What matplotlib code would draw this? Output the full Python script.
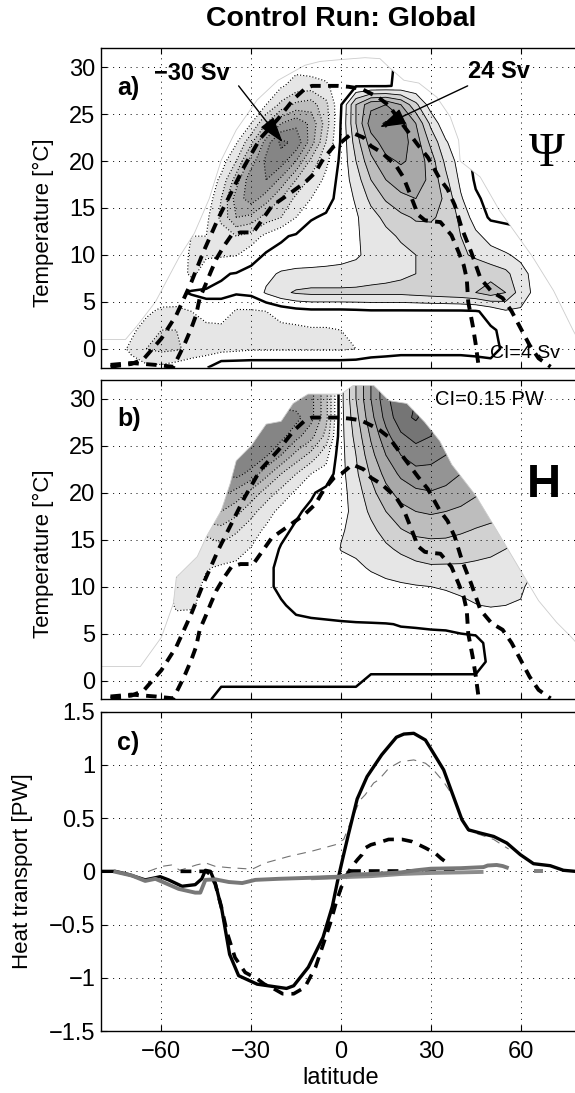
import numpy as np
import matplotlib
matplotlib.use("Agg")
import matplotlib.pyplot as plt
from matplotlib.patches import Polygon

plt.rcParams.update({
    "font.family": ["Liberation Sans", "DejaVu Sans"],
    "font.size": 16,
    "axes.linewidth": 1.0,
    "xtick.direction": "in",
    "ytick.direction": "in",
    "xtick.top": True,
    "ytick.right": True,
})

# ── grid for panels a) and b) ────────────────────────────────────────────────
LAT = np.arange(-80, 81, 5)          # 33 columns
TEMP = np.arange(32, -3, -2)         # rows, top (32) to bottom (-2)

# a) overturning streamfunction Psi [Sv]
psi30 = [-0.5]*11 + [-1, -2, -3, -2, -1, -0.5, -0.5, -0.5, -0.3, 0.3, 0.3] + [0.3]*11
PSI_ROWS = [
    psi30,
    psi30,
    [-0.5]*10 + [-0.8] + [-1.5, -3.5, -5.5, -6, -5, -0.5, -0.3, -0.3, -0.3, 0.5, 0.5] + [0.3]*11,
    [-0.5]*10 + [-1] + [-4, -9, -13, -14, -9, -0.3, 12, 19, 20, 16, 9] + [2] + [0.3]*10,
    [-0.5]*9 + [-1, -4] + [-12, -20, -23, -19, -10, 0.3, 12, 22, 24.5, 22, 16] + [7, 1] + [0.3]*9,
    [-0.5]*8 + [-0.5, -3.5, -11] + [-22, -29, -27, -18, -8, 0.5, 10, 18, 22, 22, 18] + [11, 4.5, 0.5] + [0.3]*8,
    [-0.5]*8 + [-2, -8, -18] + [-25, -26, -20, -11, -5, 1, 8, 15, 19, 20.5, 19] + [14, 7, 2, -1, -1] + [-0.5]*6,
    [-0.5]*8 + [-5, -14, -23] + [-24, -19, -12, -7, -3, 1.5, 6, 12, 16, 18, 18] + [15, 9, 3, -0.5, -1] + [-0.5]*6,
    [-0.5]*7 + [-1, -8, -18, -22] + [-18, -12, -7, -4, -1.5, 1.5, 4.5, 9, 12.5, 15, 16] + [15, 11, 4.5, 0.5, -1, -1] + [-0.5]*5,
    [-0.5]*6 + [-1, -3, -9, -16, -15] + [-10, -8, -4, -0.3, 0.5, 2, 3.5, 6.5, 9, 11, 12.5] + [12.5, 11, 7, 2, -0.5, -0.5] + [-0.5]*5,
    [-0.5]*6 + [-4, -4, -6, -8, -6] + [-3, -0.5, 0.5, 1.5, 2, 2.5, 3.5, 5.5, 7, 8.5, 10] + [10.5, 10, 8, 5, 2.5, 1, 0.5] + [0.3]*4,
    [-0.5]*5 + [-2, -4.5, -4.5, -4.5, -4.2, -2] + [0.5, 1, 1.5, 2, 2.5, 3, 3.5, 5, 6, 7, 8] + [8.5, 8.5, 8.5, 7.5, 5.5, 4.5, 3, 1] + [0.3]*3,
    [-0.5]*5 + [-1, -5, -2, -0.3, 0.2, 1.5] + [3, 4.5, 5, 5, 5, 5, 5.5, 6.5, 7, 7.5, 8] + [8.5, 9, 9.5, 10, 10.5, 9, 5.5, 2.5, 0.5, 0.3, 0.3],
    [-0.5]*5 + [-1, 0.5, 0.5, 0.5, 0.5, 1] + [4.5, 7, 8.5, 9, 9, 9, 9, 9, 9, 9, 9.5] + [10, 10.5, 11, 12, 14, 12, 6, 3, 1, 0.3, 0.3],
    [-0.5, -0.5, -1.5, -3, -5] + [-5, -4, -1, -1, -4.5, -4.5] + [-4, -2.5, -1.5, -1, -1, -1, -0.8, -0.5, -0.5, -0.5, -0.5] + [-0.5, -0.5, -0.5, -0.3, 1, 3.5, 3.5, 2, 0.5, 0.3, 0.3],
    [-0.5, -1, -3, -6, -8] + [-8, -7, -6, -5.5, -5.5, -5.5] + [-5, -5, -5, -4.5, -4.5, -4, -3, -2, -1.5, -1, -1] + [-1, -1, -1, -1, -0.3, 0.5, 1, 1, 0.5, 0.3, 0.3],
    [-1, -2, -5, -8, -9] + [-8.5, -7, -6, -5.5, -5, -4.5] + [-4.5, -4.5, -4.5, -4.5, -4.5, -4.5, -4, -2.5, -2, -1.5, -1.5] + [-1.5, -1.5, -1.5, -1, -0.5, 0.3, 0.5, 0.5, 0.3, 0.3, 0.3],
    [-0.5, -1, -2, -3, -3] + [-2, -1, -0.3, 3, 3, 3] + [3]*11 + [3, 3, 3, 1.5, 0.5, 0.3, 0.3, 0.3, 0.3, 0.3, 0.3],
]

# b) heat function H [PW]
h30 = [-0.8]*13 + [-0.8, -0.8, -0.5, 0.1, 0.45, 0.75, 1.0] + [1.2, 1.2] + [1.1]*11
HEAT_ROWS = [
    h30,
    h30,
    [-0.9]*10 + [-0.95, -1.0, -1.0, -0.95, -0.8, -0.5, 0.1, 0.4, 0.7, 0.95, 1.15, 1.22, 1.1] + [1.0]*10,
    [-0.9]*9 + [-0.95, -1.0, -1.05, -0.95, -0.8, -0.65, -0.4, 0.1, 0.35, 0.62, 0.85, 1.02, 1.1, 1.05, 0.95] + [0.9]*9,
    [-0.9]*8 + [-0.95, -1.0, -1.02, -0.92, -0.75, -0.55, -0.4, -0.2, 0.1, 0.3, 0.55, 0.75, 0.9, 0.97, 0.95, 0.9, 0.85] + [0.8]*8,
    [-0.85]*8 + [-0.9, -0.95, -0.85, -0.65, -0.45, -0.3, -0.15, -0.1, 0.1, 0.27, 0.47, 0.65, 0.78, 0.85, 0.85, 0.8, 0.75, 0.7] + [0.7]*7,
    [-0.8]*8 + [-0.8, -0.7, -0.55, -0.38, -0.25, -0.12, -0.02, 0.05, 0.1, 0.22, 0.4, 0.55, 0.66, 0.72, 0.74, 0.72, 0.68, 0.62] + [0.6]*7,
    [-0.6]*8 + [-0.6, -0.5, -0.35, -0.22, -0.1, -0.02, 0.03, 0.06, 0.1, 0.2, 0.33, 0.45, 0.55, 0.6, 0.62, 0.6, 0.57, 0.53, 0.5] + [0.5]*6,
    [-0.35]*8 + [-0.4, -0.32, -0.22, -0.12, -0.03, 0.02, 0.04, 0.07, 0.14, 0.18, 0.26, 0.36, 0.44, 0.49, 0.5, 0.5, 0.47, 0.44, 0.42, 0.38] + [0.35]*5,
    [-0.2]*7 + [-0.2, -0.25, -0.2, -0.14, -0.06, 0.01, 0.03, 0.05, 0.08, 0.155, 0.17, 0.2, 0.27, 0.33, 0.37, 0.39, 0.38, 0.37, 0.35, 0.33, 0.3, 0.25] + [0.2]*4,
    [-0.1]*5 + [-0.12, -0.2, -0.16, -0.13, -0.12, -0.07, -0.02, 0.02, 0.03, 0.04, 0.06, 0.1, 0.13, 0.16, 0.19, 0.22, 0.26, 0.28, 0.28, 0.28, 0.27, 0.26, 0.24, 0.2] + [0.15]*4,
    [-0.1]*5 + [-0.18, -0.2, -0.12, -0.08, -0.06, -0.04, -0.01, 0.01, 0.02, 0.03, 0.04, 0.06, 0.09, 0.11, 0.12, 0.13, 0.14, 0.15, 0.16, 0.18, 0.2, 0.2, 0.19, 0.17, 0.1] + [0.05]*3,
    [-0.05]*5 + [-0.17, -0.17, -0.1, -0.06, -0.05, -0.03, -0.02, -0.005, 0.01, 0.02, 0.03, 0.04, 0.05, 0.06, 0.07, 0.08, 0.09, 0.1, 0.11, 0.12, 0.145, 0.16, 0.15, 0.14, 0.08, 0.04, 0.02, 0.02],
    [-0.02]*4 + [-0.05, -0.1, -0.08, -0.05, -0.03, -0.02, -0.02, -0.015, -0.01, -0.01, -0.01, -0.01, -0.008, -0.006, -0.005, -0.003, 0.003, 0.005, 0.008, 0.01, 0.02, 0.03, 0.05, 0.06, 0.05, 0.03, 0.02, 0.01, 0.01],
    [-0.02]*3 + [-0.03, -0.03, -0.04, -0.03] + [-0.02]*19 + [0.02, 0.02] + [0.01]*5,
    [-0.02]*26 + [0.01]*7,
    [-0.01]*18 + [0.01]*15,
    [-0.01]*8 + [0.02]*25,
]

# water-mass domain outlines (lat, temperature)
DOMAIN_A_LAT = [-80, -80, -72, -68, -62, -54, -49, -44, -40, -35, -28, -21, -12, -7, 0, 8, 13, 16, 21, 26, 32, 36.5, 39.3, 39.8, 46.5, 53, 64, 71, 77.5, 80, 80]
DOMAIN_A_T = [-2, 1, 1, 2.5, 5, 9.8, 12.3, 16, 20.1, 23.3, 26.5, 28.6, 30.2, 30.6, 30.8, 31, 30.9, 30, 28.6, 28.3, 26.8, 24.7, 22.2, 20, 18.3, 14.7, 9.8, 6.2, 2, 0.5, -2]
DOMAIN_B_LAT = [-80, -80, -67, -60, -56, -55, -48, -45, -40, -37, -35, -30, -25, -20, -16, -11, 0, 4, 11, 16, 22, 28, 33, 37, 45, 52, 60, 66, 72, 77, 80, 80]
DOMAIN_B_T = [-2, 1.5, 1.5, 4.6, 8.2, 11, 13.2, 15.3, 18.1, 21, 23.4, 25, 27.3, 27.6, 29.5, 30.5, 30.5, 31.4, 31.4, 29.8, 29.5, 27.5, 25.5, 23, 19.7, 16, 11.7, 8.5, 6.2, 4.6, 3.5, -2]

# thick dashed lines (warm and cold surface temperature) in a) and b)
SST_MAX_LAT = [-77, -70, -66, -63, -60, -55, -50, -46, -41, -36.6, -32.2, -27, -21, -15.8, -12, -9.7, -4.8, -1, 2.6, 6.7,
               12.4, 16, 20.8, 25.7, 29, 33, 35.6, 38, 40.4, 43.5, 46.6, 50.3, 54, 57, 60, 63, 66, 70]
SST_MAX_T = [-1.9, -1.6, -1.1, 0, 1.1, 3.6, 7.1, 10.3, 13.9, 16.7, 19.5, 22.4, 24.5, 26.6, 27.7, 28, 28, 28, 27.9, 27.7,
             26.8, 25.9, 23.8, 21.7, 20.4, 18.1, 17, 15.3, 12.8, 10.3, 7.5, 6.1, 5.4, 4, 2.2, 0.4, -1, -1.9]
SST_MIN_LAT = [-77, -70, -62, -56, -53.8, -52, -50, -48.4, -47.2, -45.3, -43.5, -41.6, -39, -36.6, -33.6, -29.3, -23.1, -18.2,
               -12.1, -8.5, -6, -2.3, 0.1, 3.8, 7.5, 10, 13.6, 16, 18.4, 20.8, 23.3, 25.7, 28, 30.1, 33.2, 36.9, 39.3, 41,
               42, 42.5, 44, 45, 46]
SST_MIN_T = [-1.7, -1.5, -1.7, -1.9, -0.5, 0.7, 2.2, 3.6, 5.4, 6.8, 8.2, 9.6, 11, 12.1, 12.4, 12.4, 15.2, 16.3,
             17.7, 18.8, 20.2, 21.6, 22, 23, 22.5, 21.6, 20.9, 20.2, 19.5, 18.3, 16.3, 14.3, 13.7, 13.6, 13.5, 12.1, 10.3, 8.9,
             7.5, 5, 2.5, 0.5, -1.9]

# ── c) heat transport [PW] ───────────────────────────────────────────────────
TOTAL_LAT = [-80, -75.4, -70.9, -65.4, -62, -60.4, -57.6, -53.1, -48.7, -46.5, -45.3, -43.6, -42, -39.8, -37.2, -34.2,
             -28, -23.1, -18.2, -15.8, -10.9, -6, -2.9, -1.1, 0.7, 2.5, 5.4, 8.7, 13.6, 18.5, 21, 24.3, 28.2, 30.9,
             34.3, 37.6, 40.4, 42.6, 46.5, 51, 55.4, 59.9, 64.3, 69.9, 74.3, 78.3, 80]
TOTAL_H = [0, 0, -0.03, -0.08, -0.06, -0.05, -0.08, -0.14, -0.125, -0.07, 0.01, 0.0, -0.11, -0.36, -0.78, -0.98,
           -1.06, -1.08, -1.10, -1.075, -0.90, -0.62, -0.33, -0.085, 0.135, 0.35, 0.68, 0.89, 1.095, 1.26, 1.29, 1.297, 1.234, 1.11,
           0.953, 0.70, 0.485, 0.39, 0.36, 0.328, 0.266, 0.157, 0.072, 0.053, 0.01, 0, 0]
OVERT_LAT = [-53.6, -50, -46, -45, -43.6, -42, -40, -38, -35.4, -32, -28, -25.6, -22, -19.5, -15.8, -12.1, -8.5, -4.8,
             -3.6, -1.5, 0.1, 1.4, 3.5, 5.5, 7, 8.1, 10, 12.6, 15.9, 18.5, 20.4, 23.7, 26, 28.2, 31.5, 33.5, 35.4, 36.5]
OVERT_H = [0, 0, 0, 0, -0.03, -0.12, -0.33, -0.58, -0.81, -0.95, -1.01, -1.06, -1.11, -1.15, -1.15, -1.09, -0.90, -0.59,
           -0.49, -0.28, -0.15, -0.06, 0.04, 0.11, 0.157, 0.22, 0.25, 0.27, 0.30, 0.30, 0.30, 0.28, 0.25, 0.22, 0.17, 0.12, 0.08, 0.06]
GYRE_LAT = [3, 12, 25, 40]
GYRE_H = [0.0, 0.0, 0.0, 0.0]
THIN_LAT = [-64.3, -59.8, -56.6, -53.8, -51, -48.3, -45.3, -42, -37.5, -32, -29.7, -25.3, -17.5, -9.7, -1.9, 0.9, 3, 5.3,
            6.4, 8.1, 10.9, 12.6, 16, 19.8, 24.3, 28.2, 30.9, 34.3, 37.6, 40.4, 42.6, 46.5, 51, 54.3, 56]
THIN_H = [0.0, 0.047, 0.06, 0.01, 0.035, 0.06, 0.08, 0.047, 0.035, 0.025, 0.02, 0.079, 0.14, 0.19, 0.25, 0.30, 0.45, 0.6,
          0.67, 0.72, 0.83, 0.86, 0.97, 1.03, 1.047, 1.016, 0.953, 0.84, 0.70, 0.49, 0.38, 0.344, 0.30, 0.24, 0.21]
GRAY1_LAT = [-76, -69.8, -65.4, -62, -58.7, -54.2, -48.7, -47, -45.3, -42, -37.5, -33, -28.6, -20.8, -9.7, -0.8, 4.2,
             10, 20, 25, 30, 40, 47.6, 49, 52, 54, 56]
GRAY1_H = [0, -0.04, -0.09, -0.07, -0.11, -0.165, -0.2, -0.2, -0.08, -0.075, -0.1, -0.11, -0.08, -0.07, -0.06, -0.05, -0.03,
           -0.025, -0.01, 0.01, 0.025, 0.03, 0.04, 0.055, 0.06, 0.05, 0.03]
GRAY2_LAT = [-10, 0, 10, 20, 30, 40, 47.6]
GRAY2_H = [-0.065, -0.055, -0.045, -0.025, -0.015, -0.01, -0.005]
GRAY3_LAT = [64.6, 67.4]
GRAY3_H = [0, 0]

PSI_LEVELS = [-32, -28, -24, -20, -16, -12, -8, -4, 4, 8, 12, 16, 20, 24, 28, 32]
HEAT_LEVELS = [-1.35, -1.2, -1.05, -0.9, -0.75, -0.6, -0.45, -0.3, -0.15,
               0.15, 0.3, 0.45, 0.6, 0.75, 0.9, 1.05, 1.2, 1.35]
SHADES = [0.90, 0.82, 0.74, 0.66, 0.58, 0.52, 0.46, 0.40]

XTICKS = [-60, -30, 0, 30, 60]
XTICKLABELS = ["\u221260", "\u221230", "0", "30", "60"]
TTICKS = [0, 5, 10, 15, 20, 25, 30]
HTICKS = [-1.5, -1, -0.5, 0, 0.5, 1, 1.5]
HTICKLABELS = ["\u22121.5", "\u22121", "\u22120.5", "0", "0.5", "1", "1.5"]

DASHES = (2.7, 1.9)


def shade_colors(nbins):
    neg = [str(SHADES[i]) for i in range(nbins - 1, -1, -1)]
    pos = [str(SHADES[i]) for i in range(nbins)]
    return neg + ["white"] + pos


def base_axes(ax):
    ax.set_xlim(-80, 80)
    ax.set_xticks(XTICKS)
    ax.grid(True, color="k", lw=0.7, ls=(0, (1, 5)))
    ax.set_axisbelow(False)
    ax.tick_params(length=4, width=0.8, labelsize=17, pad=4.5)
    ax.tick_params(axis="x", pad=7)


def field_panel(ax, rows, levels, nbins, dom_lat, dom_t):
    field = np.array(rows, dtype=float)[::-1]
    temp = TEMP[::-1]
    poly = Polygon(np.column_stack([dom_lat, dom_t]), closed=True,
                   facecolor="none", edgecolor="none", transform=ax.transData)
    ax.add_patch(poly)

    cf = ax.contourf(LAT, temp, field, levels=levels, colors=shade_colors(nbins), zorder=1)
    cf.set_clip_path(poly)
    neg = [v for v in levels[1:] if v < 0]
    pos = [v for v in levels[:-1] if v > 0]
    c1 = ax.contour(LAT, temp, field, levels=neg, colors="k", linewidths=0.8,
                    linestyles=[(0, (1, 1.8))], zorder=2)
    c2 = ax.contour(LAT, temp, field, levels=pos, colors="k", linewidths=0.6, zorder=2)
    c3 = ax.contour(LAT, temp, field, levels=[0], colors="k", linewidths=1.8, zorder=2)
    for c in (c1, c2, c3):
        c.set_clip_path(poly)

    ax.plot(dom_lat[1:-1], dom_t[1:-1], color="0.8", lw=0.6, zorder=2)
    ax.plot(SST_MAX_LAT, SST_MAX_T, color="k", lw=2.8, dashes=DASHES, zorder=4)
    ax.plot(SST_MIN_LAT, SST_MIN_T, color="k", lw=2.8, dashes=DASHES, zorder=4)

    ax.set_ylim(-2, 32)
    ax.set_yticks(TTICKS)
    ax.set_ylabel("Temperature [\u00b0C]", fontsize=16)
    ax.yaxis.set_label_coords(-0.10, 0.455)
    ax.tick_params(labelbottom=False)


fig = plt.figure(figsize=(5.75, 10.93), dpi=100)
ax_a = fig.add_axes([0.17652, 0.66359, 0.83304, 0.29222])
ax_b = fig.add_axes([0.17652, 0.36020, 0.83304, 0.29213])
ax_c = fig.add_axes([0.17652, 0.05672, 0.83304, 0.29213])
for ax in (ax_a, ax_b, ax_c):
    base_axes(ax)

# a) Psi
field_panel(ax_a, PSI_ROWS, PSI_LEVELS, 7, DOMAIN_A_LAT, DOMAIN_A_T)
ax_a.text(-74.7, 27.8, "a)", fontsize=18, fontweight="bold", ha="left", va="center", zorder=6)
ax_a.text(-62.4, 29.3, "\u221230 Sv", fontsize=17, fontweight="bold", ha="left", va="center", zorder=6)
ax_a.text(42.5, 29.5, "24 Sv", fontsize=17, fontweight="bold", ha="left", va="center", zorder=6)
arrow = dict(arrowstyle="-|>,head_length=1.0,head_width=0.32", mutation_scale=16,
             lw=1.0, color="k", shrinkA=0, shrinkB=0)
ax_a.annotate("", xy=(-19.5, 22.0), xytext=(-34.2, 28.0), arrowprops=arrow, zorder=6)
ax_a.annotate("", xy=(13.0, 23.6), xytext=(42.3, 28.0), arrowprops=arrow, zorder=6)
ax_a.text(68.7, 20.8, "\u03a8", fontsize=35, family=["Liberation Serif", "DejaVu Serif"],
          ha="center", va="center", zorder=6)
ax_a.text(49.9, -0.5, "CI=4 Sv", fontsize=14, ha="left", va="center", zorder=6)

# b) H
field_panel(ax_b, HEAT_ROWS, HEAT_LEVELS, 8, DOMAIN_B_LAT, DOMAIN_B_T)
ax_b.text(-74.7, 27.9, "b)", fontsize=18, fontweight="bold", ha="left", va="center", zorder=6)
ax_b.text(67.7, 20.8, "H", fontsize=34, fontweight="bold", ha="center", va="center", zorder=6)
ax_b.text(31.3, 29.9, "CI=0.15 PW", fontsize=14.5, ha="left", va="center", zorder=6)

# c) heat transport
ax_c.plot(THIN_LAT, THIN_H, color="0.45", lw=0.8, dashes=(8, 6), zorder=3)
ax_c.plot(GYRE_LAT, GYRE_H, color="k", lw=2.6, dashes=(3, 2.2), zorder=3)
ax_c.plot(TOTAL_LAT, TOTAL_H, color="k", lw=2.4, zorder=4)
ax_c.plot(OVERT_LAT, OVERT_H, color="k", lw=2.6, dashes=(3, 2.2), zorder=4)
ax_c.plot(GRAY2_LAT, GRAY2_H, color="0.55", lw=2.8, solid_capstyle="butt", zorder=5)
ax_c.plot(GRAY1_LAT, GRAY1_H, color="0.47", lw=2.8, solid_capstyle="butt", zorder=5)
ax_c.plot(GRAY3_LAT, GRAY3_H, color="0.5", lw=2.8, solid_capstyle="butt", zorder=5)
ax_c.set_ylim(-1.5, 1.5)
ax_c.set_yticks(HTICKS)
ax_c.set_yticklabels(HTICKLABELS)
ax_c.set_xticklabels(XTICKLABELS)
ax_c.set_ylabel("Heat transport [PW]", fontsize=16)
ax_c.yaxis.set_label_coords(-0.142, 0.5)
ax_c.set_xlabel("latitude", fontsize=17)
ax_c.xaxis.set_label_coords(0.5, -0.112)
ax_c.text(-74.7, 1.21, "c)", fontsize=18, fontweight="bold", ha="left", va="center", zorder=6)

fig.text(0.5925, 0.9826, "Control Run: Global", ha="center", va="center",
         fontsize=20.5, fontweight="bold")

fig.savefig("out.png", dpi=100)
plt.close(fig)
